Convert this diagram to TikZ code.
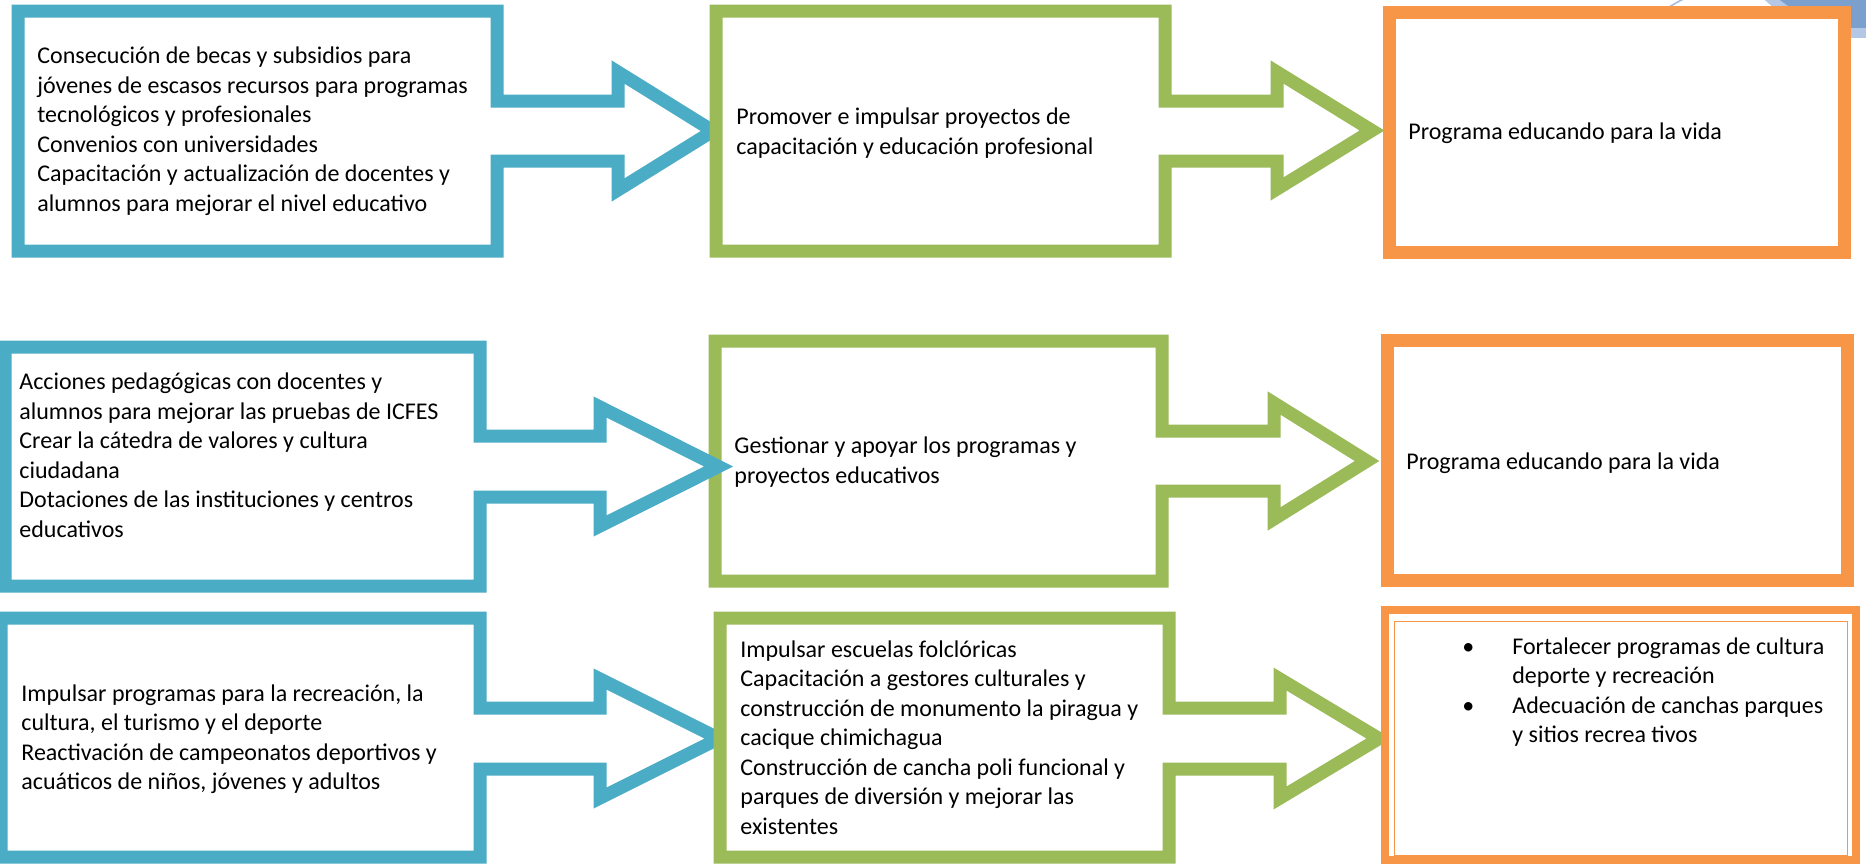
\documentclass[tikz,border=0pt]{standalone}
\usepackage{fontspec}
\setmainfont{Carlito}
\definecolor{cBlue}{HTML}{4BACC6}
\definecolor{cGreen}{HTML}{9BBB59}
\definecolor{cOrange}{HTML}{F79646}
\definecolor{decoDark}{HTML}{7BA0CD}
\definecolor{decoLight}{HTML}{B4C8E6}
\definecolor{decoThin}{HTML}{A6BEDF}
\begin{document}
\begin{tikzpicture}[x=0.5pt,y=-0.5pt,
  callout/.style={line width=6.5pt, fill=white, line join=miter},
  bluec/.style={callout, draw=cBlue},
  greenc/.style={callout, draw=cGreen},
  orangebox/.style={line width=6.5pt, draw=cOrange, fill=white, line join=miter},
  txt/.style={anchor=west, align=left, inner sep=0pt, font=\fontsize{12}{14.75}\selectfont, text=black}]
\useasboundingbox (0,0) rectangle (1866,864);
\fill[white] (0,0) rectangle (1866,864);

% decoration top right
\begin{scope}
  \clip (1600,0) rectangle (1866,7);
  \draw[decoThin, line width=0.8pt] (1749,134) circle[radius=150];
\end{scope}
\begin{scope}
  \clip (1600,0) rectangle (1866,80);
  \fill[decoLight] (1860,-100) circle[radius=138];
  \fill[decoDark] (1860,-100) circle[radius=128];
\end{scope}

% row 1
\draw[bluec] (18,11) -- (497,11) -- (497,101) -- (618,101) -- (618,72) -- (713,131)
  -- (618,190) -- (618,161) -- (497,161) -- (497,251) -- (18,251) -- cycle;
\draw[greenc] (716,11) -- (1165,11) -- (1165,101) -- (1277,101) -- (1277,72) -- (1372,130.5)
  -- (1277,189) -- (1277,161) -- (1165,161) -- (1165,251) -- (716,251) -- cycle;
\draw[orangebox] (1389,12) rectangle (1844,252);

% row 2
\draw[greenc] (715,341) -- (1162,341) -- (1162,431) -- (1274,431) -- (1274,403) -- (1367,461)
  -- (1274,519) -- (1274,491) -- (1162,491) -- (1162,581) -- (715,581) -- cycle;
\draw[bluec] (5,347) -- (480,347) -- (480,436) -- (600,436) -- (600,407) -- (718.6,466.5)
  -- (600,526) -- (600,497) -- (480,497) -- (480,586) -- (5,586) -- cycle;
\draw[orangebox] (1387,340) rectangle (1847,580);

% row 3
\draw[bluec] (1,618) -- (480,618) -- (480,708) -- (600,708) -- (600,679) -- (719,738.5)
  -- (600,798) -- (600,769) -- (480,769) -- (480,857) -- (1,857) -- cycle;
\draw[greenc] (720,618) -- (1169,618) -- (1169,708) -- (1280,708) -- (1280,679) -- (1379,738.5)
  -- (1280,798) -- (1280,769) -- (1169,769) -- (1169,857) -- (720,857) -- cycle;
\draw[orangebox, line width=4pt] (1385,610) rectangle (1856,860);
\draw[cOrange, line width=0.5pt] (1394,621) rectangle (1847,855);

% texts
\node[txt] (b1) at (37,131) {Consecución de becas y subsidios para\\
jóvenes de escasos recursos para programas\\
tecnológicos y profesionales\\
Convenios con universidades\\
Capacitación y actualización de docentes y\\
alumnos para mejorar el nivel educativo};
\node[txt] (g1) at (736,133) {Promover e impulsar proyectos de\\capacitación y educación profesional};
\node[txt] (o1) at (1408,133) {Programa educando para la vida};

\node[txt] (b2) at (19,455) {Acciones pedagógicas con docentes y\\
alumnos para mejorar las pruebas de ICFES\\
Crear la cátedra de valores y cultura\\
ciudadana\\
Dotaciones de las instituciones y centros\\
educativos};
\node[txt] (g2) at (734,462) {Gestionar y apoyar los programas y\\proyectos educativos};
\node[txt] (o2) at (1406,463) {Programa educando para la vida};

\node[txt] (b3) at (21,739) {Impulsar programas para la recreación, la\\
cultura, el turismo y el deporte\\
Reactivación de campeonatos deportivos y\\
acuáticos de niños, jóvenes y adultos};
\node[txt] (g3) at (740,737.5) {Impulsar escuelas folclóricas\\
Capacitación a gestores culturales y\\
construcción de monumento la piragua y\\
cacique chimichagua\\
Construcción de cancha poli funcional y\\
parques de diversión y mejorar las\\
existentes};
\node[txt] (o3) at (1462,692.5) {\begin{tabular}{@{}l@{\hspace{19pt}}l@{}}
\textbullet & Fortalecer programas de cultura\\
 & deporte y recreación\\
\textbullet & Adecuación de canchas parques\\
 & y sitios recrea tivos
\end{tabular}};
\end{tikzpicture}
\end{document}
